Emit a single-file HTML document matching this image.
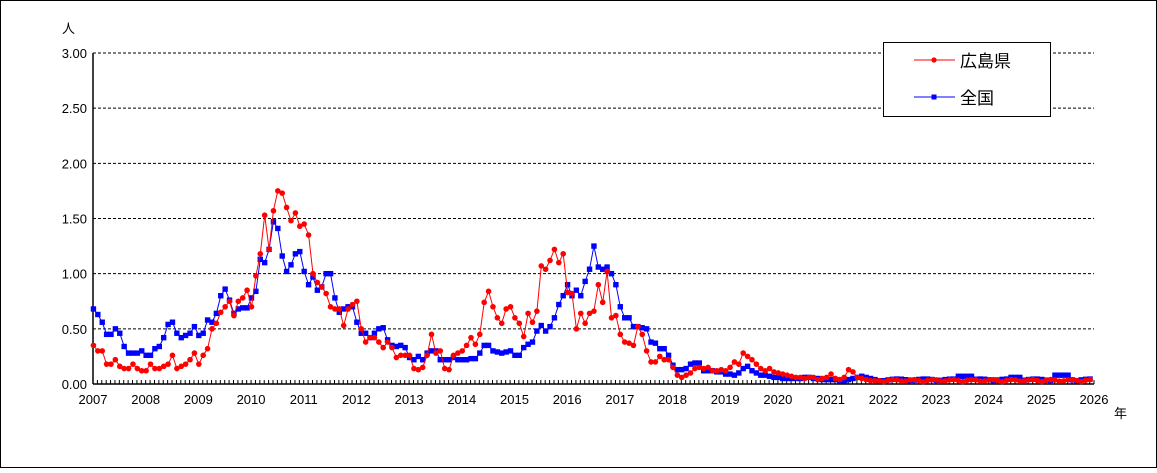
<!DOCTYPE html>
<html><head><meta charset="utf-8"><style>
body{margin:0;background:#fff}
svg text{font-family:"Liberation Sans","Noto Sans CJK JP",sans-serif;font-size:13px}
</style></head><body>
<svg id="s" width="1157" height="468" xmlns="http://www.w3.org/2000/svg">
<rect x="0.5" y="0.5" width="1156" height="467" fill="#fff" stroke="#000"/>
</svg>
<script>
const s=document.getElementById('s');
const X0=93,X1=1094,Y0=384,Y3=53;
const mx=(X1-X0)/228, yv=v=>Y0-(Y0-Y3)*v/3;
let h='';
for(let i=1;i<=6;i++){const y=yv(i*0.5);h+=`<line x1="${X0}" x2="${X1}" y1="${y}" y2="${y}" stroke="#000" stroke-dasharray="3,2"/>`;}
for(let i=0;i<=6;i++){h+=`<text x="${X0-6}" y="${yv(i*0.5)+5}" text-anchor="end">${(i*0.5).toFixed(2)}</text>`;}
h+=`<text x="62" y="33">人</text>`;
for(let m=0;m<=228;m++){const x=X0+m*mx;h+=`<line x1="${x}" x2="${x}" y1="${Y0}" y2="${Y0-4}" stroke="#000"/>`;}
for(let y=0;y<=19;y++){h+=`<text x="${X0+y*12*mx}" y="404" text-anchor="middle">${2007+y}</text>`;}
h+=`<text x="1114" y="418">年</text>`;
h+=`<line x1="${X0}" y1="${Y3}" x2="${X0}" y2="${Y0}" stroke="#000" stroke-width="1.5"/><line x1="${X0}" y1="${Y0}" x2="${X1}" y2="${Y0}" stroke="#000" stroke-width="1.5"/>`;
const red=[0.35,0.30,0.30,0.18,0.18,0.22,0.16,0.14,0.14,0.18,0.14,0.12,
0.12,0.18,0.14,0.14,0.16,0.18,0.26,0.14,0.16,0.18,0.22,0.28,
0.18,0.26,0.32,0.5,0.55,0.65,0.70,0.75,0.62,0.75,0.78,0.85,
0.70,0.98,1.18,1.53,1.22,1.57,1.75,1.73,1.6,1.48,1.55,1.43,
1.45,1.35,1.0,0.92,0.88,0.82,0.70,0.68,0.68,0.53,0.68,0.72,
0.75,0.5,0.38,0.42,0.42,0.38,0.33,0.38,0.33,0.24,0.26,0.26,
0.26,0.14,0.13,0.15,0.26,0.45,0.28,0.30,0.14,0.13,0.26,0.28,
0.30,0.35,0.42,0.36,0.45,0.74,0.84,0.70,0.60,0.55,0.68,0.70,
0.60,0.55,0.43,0.64,0.56,0.66,1.07,1.04,1.12,1.22,1.10,1.18,
0.83,0.82,0.50,0.64,0.55,0.64,0.66,0.90,0.74,1.02,0.60,0.62,
0.45,0.38,0.37,0.35,0.52,0.45,0.30,0.20,0.20,0.25,0.22,0.22,
0.15,0.08,0.06,0.08,0.10,0.14,0.15,0.14,0.15,0.12,0.12,0.13,
0.12,0.15,0.20,0.18,0.28,0.25,0.22,0.18,0.14,0.12,0.14,0.11,
0.10,0.09,0.08,0.07,0.06,0.06,0.05,0.06,0.06,0.04,0.05,0.06,
0.09,0.05,0.04,0.06,0.13,0.11,0.06,0.05,0.04,0.03,0.03,0.03];
const blue=[0.68,0.63,0.56,0.45,0.45,0.50,0.46,0.34,0.28,0.28,0.28,0.30,
0.26,0.26,0.32,0.34,0.42,0.54,0.56,0.46,0.42,0.44,0.46,0.52,
0.44,0.46,0.58,0.56,0.64,0.80,0.86,0.76,0.64,0.68,0.69,0.69,
0.78,0.84,1.13,1.10,1.22,1.47,1.41,1.16,1.02,1.08,1.18,1.20,
1.02,0.90,0.97,0.85,0.88,1.00,1.00,0.78,0.65,0.68,0.70,0.70,
0.56,0.46,0.46,0.42,0.46,0.50,0.51,0.40,0.35,0.34,0.35,0.33,
0.24,0.22,0.25,0.22,0.28,0.30,0.30,0.22,0.22,0.22,0.24,0.22,
0.22,0.22,0.23,0.23,0.28,0.35,0.35,0.30,0.29,0.28,0.29,0.30,
0.26,0.26,0.33,0.36,0.38,0.48,0.53,0.48,0.52,0.60,0.72,0.80,
0.90,0.80,0.85,0.80,0.93,1.04,1.25,1.06,1.04,1.06,1.00,0.90,
0.70,0.60,0.60,0.52,0.52,0.51,0.50,0.38,0.37,0.32,0.32,0.26,
0.17,0.13,0.13,0.14,0.18,0.19,0.19,0.12,0.12,0.12,0.11,0.11,
0.09,0.09,0.08,0.10,0.14,0.16,0.12,0.10,0.08,0.08,0.07,0.06,
0.06,0.05,0.05,0.05,0.05,0.05,0.06,0.06,0.05,0.05,0.04,0.04,
0.04,0.04,0.03,0.03,0.04,0.05,0.06,0.07,0.06,0.05,0.04,0.03];
const tailR=[],tailB=[];
for(let i=red.length;i<228;i++){const t=i-180;tailR.push(0.02+0.02*Math.abs(Math.sin(t*0.7)));
tailB.push(0.03+0.015*Math.abs(Math.sin(t*0.5)));}
for(let i=0;i<tailB.length;i++){const m=red.length+i;if(m>=197&&m<=200)tailB[i]=0.07;if(m>=209&&m<=211)tailB[i]=0.06;if(m>=219&&m<=222)tailB[i]=0.08;}
const R=red.concat(tailR),B=blue.concat(tailB);
function series(d,c,sq){let p='',mk='';d.forEach((v,i)=>{const x=X0+(i+0.1)*mx,y=yv(v);p+=(i?'L':'M')+x.toFixed(1)+' '+y.toFixed(1);
mk+=sq?`<rect x="${x-2.7}" y="${y-2.7}" width="5.4" height="5.4" fill="${c}"/>`:`<circle cx="${x}" cy="${y}" r="2.8" fill="${c}"/>`;});
return `<path d="${p}" fill="none" stroke="${c}" stroke-width="1"/>`+mk;}
h+=series(B,'#0000ff',true)+series(R,'#ff0000',false);
h+=`<rect x="883.5" y="42.5" width="167" height="74" fill="#fff" stroke="#000"/>
<line x1="914" x2="955" y1="60" y2="60" stroke="#f00"/><circle cx="934" cy="60" r="2.6" fill="#f00"/>
<text x="960" y="67" style="font-size:17px">広島県</text>
<line x1="914" x2="955" y1="97" y2="97" stroke="#00f"/><rect x="931.5" y="94.5" width="5" height="5" fill="#00f"/>
<text x="960" y="104" style="font-size:17px">全国</text>`;
s.insertAdjacentHTML('beforeend',h);
</script>
</body></html>
